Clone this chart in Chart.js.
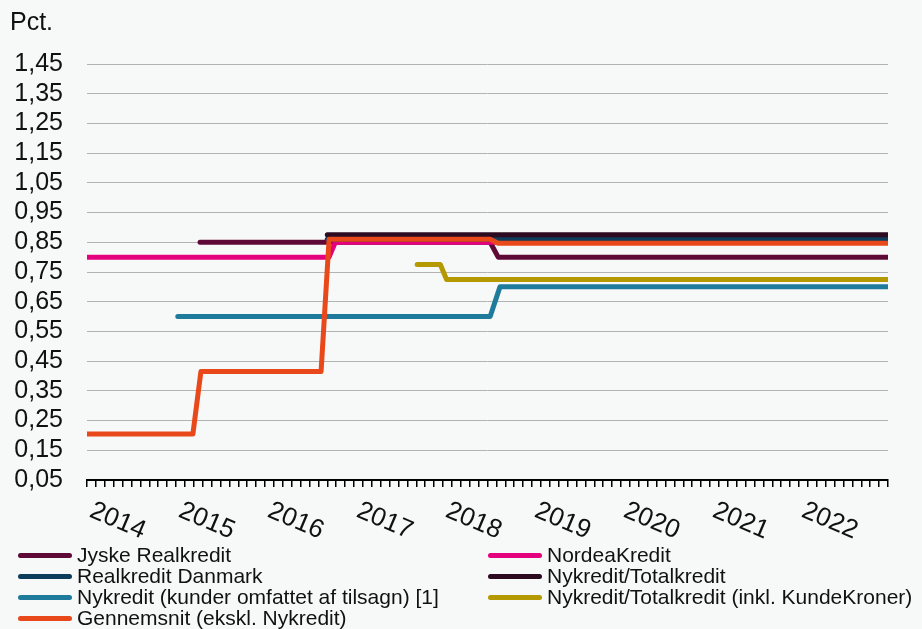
<!DOCTYPE html>
<html>
<head>
<meta charset="utf-8">
<script src="https://cdn.jsdelivr.net/npm/chart.js@4.4.1/dist/chart.umd.min.js"></script>
<style>
  body { margin: 0; background: #f7f8f8; font-family: 'Liberation Sans', Arial, sans-serif; color: #111; }
  #wrap { position: relative; width: 922px; height: 629px; }
  #unit { position: absolute; left: 10px; top: 9px; font-size: 25px; line-height: 25px; }
  .item { position: absolute; height: 21px; font-size: 21px; line-height: 21px; white-space: nowrap; }
  .item .swatch { position: absolute; left: 0; top: 9px; width: 54px; height: 5px; border-radius: 3px; }
  .item .label { position: absolute; left: 59px; top: 0; }
</style>
</head>
<body>
<div id="wrap">
  <canvas id="chart"></canvas>
  <div id="unit">Pct.</div>
  <div id="legend"></div>
</div>
<script>
// x axis: years, tick marks every 0.1 year
const years = [2014, 2015, 2016, 2017, 2018, 2019, 2020, 2021, 2022];
const xMin = 2013.7, xMax = 2022.7, xStep = 0.1;
const yMin = 0.05, yMax = 1.45, yStep = 0.1;

const seriesNames = [
  'Jyske Realkredit',
  'NordeaKredit',
  'Realkredit Danmark',
  'Nykredit/Totalkredit',
  'Nykredit (kunder omfattet af tilsagn) [1]',
  'Nykredit/Totalkredit (inkl. KundeKroner)',
  'Gennemsnit (ekskl. Nykredit)'
];
const seriesColors = ['#5f0a36', '#e5007e', '#0e3d5b', '#2c0b20', '#1f7b9b', '#b49a00', '#e9481b'];

// values (x = year, y = pct.)
const jyskeX = [2014.97, 2018.23, 2018.32, 2022.7];
const jyskeY = [0.85, 0.85, 0.80, 0.80];
const nordeaX = [2013.7, 2016.42, 2016.49, 2022.7];
const nordeaY = [0.80, 0.80, 0.85, 0.85];
const rdX = [2016.40, 2022.7];
const rdY = [0.86, 0.86];
const nykTotX = [2016.40, 2022.7];
const nykTotY = [0.875, 0.875];
const nykKunderX = [2014.72, 2018.23, 2018.34, 2022.7];
const nykKunderY = [0.60, 0.60, 0.70, 0.70];
const kundeKronerX = [2017.41, 2017.67, 2017.74, 2022.7];
const kundeKronerY = [0.775, 0.775, 0.725, 0.725];
const gnsX = [2013.7, 2014.89, 2014.98, 2016.33, 2016.42, 2018.23, 2018.32, 2022.7];
const gnsY = [0.205, 0.205, 0.415, 0.415, 0.86, 0.86, 0.847, 0.847];

const seriesX = [jyskeX, nordeaX, rdX, nykTotX, nykKunderX, kundeKronerX, gnsX];
const seriesY = [jyskeY, nordeaY, rdY, nykTotY, nykKunderY, kundeKronerY, gnsY];

const FONT = "'Liberation Sans', Arial, sans-serif";
Chart.defaults.font.family = FONT;
Chart.defaults.color = '#111';

// Rotated year labels under the axis (clockwise, like the original)
const yearLabels = {
  id: 'yearLabels',
  afterDraw(chart) {
    const ctx = chart.ctx;
    const xs = chart.scales.x;
    ctx.save();
    ctx.font = '26px ' + FONT;
    ctx.fillStyle = '#111';
    ctx.textAlign = 'center';
    ctx.textBaseline = 'middle';
    years.forEach(yr => {
      const px = xs.getPixelForValue(yr) + 4;
      ctx.save();
      ctx.translate(px, xs.top + 41);
      ctx.rotate(23 * Math.PI / 180);
      ctx.fillText(String(yr), 0, 0);
      ctx.restore();
    });
    ctx.restore();
  }
};

const datasets = seriesNames.map((name, i) => ({
  label: name,
  data: seriesX[i].map((x, j) => ({ x: x, y: seriesY[i][j] })),
  borderColor: seriesColors[i],
  backgroundColor: seriesColors[i],
  borderWidth: 5,
  borderCapStyle: 'round',
  borderJoinStyle: 'round',
  pointRadius: 0,
  fill: false,
  order: seriesNames.length - i
}));

new Chart(document.getElementById('chart'), {
  type: 'line',
  data: { datasets: datasets },
  options: {
    responsive: true,
    maintainAspectRatio: false,
    animation: false,
    layout: { padding: { left: 0, right: 34, top: 64, bottom: 0 } },
    plugins: { legend: { display: false }, tooltip: { enabled: false } },
    scales: {
      x: {
        type: 'linear',
        min: xMin,
        max: xMax,
        ticks: { display: false, stepSize: xStep },
        grid: { drawOnChartArea: false, drawTicks: true, tickLength: 7, color: '#000', lineWidth: 1.5 },
        border: { display: true, color: '#000', width: 2 },
        afterFit(s) { s.height = 149; }
      },
      y: {
        min: yMin,
        max: yMax,
        ticks: {
          stepSize: yStep,
          autoSkip: false,
          padding: 24,
          color: '#111',
          font: { size: 25 },
          callback: v => v.toFixed(2).replace('.', ',')
        },
        grid: { color: '#b3b3b3', lineWidth: 1, drawTicks: false },
        border: { display: false },
        afterFit(s) { s.width = 87; }
      }
    }
  },
  plugins: [yearLabels]
});

// legend in two columns, row by row
const legend = document.getElementById('legend');
seriesNames.forEach((name, i) => {
  const item = document.createElement('div');
  item.className = 'item';
  item.style.left = (i % 2 === 0 ? 18 : 488) + 'px';
  item.style.top = (544 + Math.floor(i / 2) * 21) + 'px';
  item.innerHTML = '<span class="swatch" style="background:' + seriesColors[i] + '"></span><span class="label"></span>';
  item.querySelector('.label').textContent = name;
  legend.appendChild(item);
});
</script>
</body>
</html>
